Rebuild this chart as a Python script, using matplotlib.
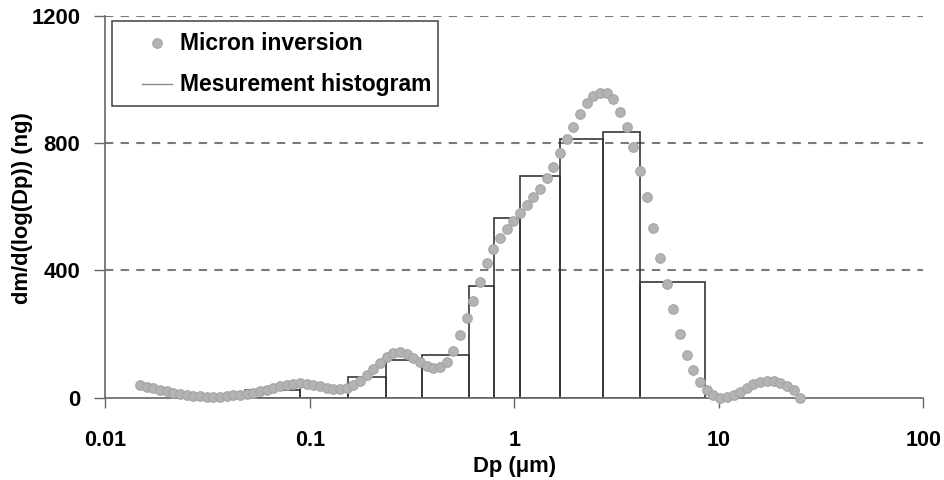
import matplotlib
matplotlib.use("Agg")
import matplotlib.pyplot as plt
from matplotlib.lines import Line2D
from matplotlib.patches import Rectangle
import numpy as np

plt.rcParams['font.family'] = ['Liberation Sans', 'DejaVu Sans']
plt.rcParams['font.weight'] = 'bold'

# Micron inversion (dots)
inv_dp = [0.01475, 0.01590, 0.01714, 0.01848, 0.01992, 0.02147, 0.02315, 0.02495, 0.02690, 0.02900,
          0.03126, 0.03370, 0.03633, 0.03916, 0.04221, 0.04550, 0.04906, 0.05288, 0.05700, 0.06145,
          0.06624, 0.07141, 0.07698, 0.08299, 0.08946, 0.09643, 0.1039, 0.1121, 0.1208, 0.1302,
          0.1404, 0.1513, 0.1631, 0.1758, 0.1896, 0.2044, 0.2203, 0.2375, 0.2560, 0.2760,
          0.2975, 0.3207, 0.3457, 0.3727, 0.4017, 0.4331, 0.4669, 0.5033, 0.5425, 0.5848,
          0.6304, 0.6796, 0.7326, 0.7897, 0.8513, 0.9178, 0.9892, 1.066, 1.150, 1.239,
          1.336, 1.440, 1.552, 1.673, 1.804, 1.945, 2.097, 2.260, 2.436, 2.626,
          2.831, 3.052, 3.290, 3.546, 3.823, 4.121, 4.443, 4.789, 5.163, 5.566,
          6.000, 6.468, 6.973, 7.516, 8.103, 8.735, 9.415, 10.15, 10.94, 11.80,
          12.71, 13.71, 14.77, 15.93, 17.17, 18.51, 19.95, 21.51, 23.19, 25.00]
inv_val = [40, 35, 30, 25, 20, 15, 12, 8, 6, 4,
           3, 3, 3, 5, 7, 10, 13, 16, 20, 25,
           31, 36, 41, 44, 45, 44, 41, 36, 31, 27,
           26, 31, 41, 54, 70, 89, 109, 128, 139, 142,
           136, 125, 112, 100, 93, 95, 112, 148, 197, 249,
           304, 363, 422, 466, 502, 531, 556, 580, 606, 630,
           657, 690, 725, 770, 812, 849, 890, 926, 948, 957,
           957, 938, 899, 850, 789, 711, 630, 533, 439, 357,
           279, 200, 134, 87, 49, 23, 9, 0, 1, 7,
           18, 30, 42, 49, 53, 53, 46, 37, 24, 0]

# Measurement histogram (bars)
bin_edges = [0.0481, 0.0895, 0.154, 0.2354, 0.352, 0.600, 0.798, 1.066, 1.673, 2.707, 4.134, 8.60]
bin_vals = [23, 33, 65, 120, 133, 352, 563, 695, 814, 834, 363]

y_ticks = [0, 400, 800, 1200]
x_ticks = [0.01, 0.1, 1, 10, 100]
x_ticklabels = ['0.01', '0.1', '1', '10', '100']
legend_labels = ['Micron inversion', 'Mesurement histogram']

W, H = 945, 480
fig = plt.figure(figsize=(W / 100, H / 100), dpi=100)
ax = fig.add_axes([105.5 / W, 1 - 397.7 / H, (923.3 - 105.5) / W, (397.7 - 15.7) / H])

ax.set_xscale('log')
ax.set_xlim(0.01, 100)
ax.set_ylim(0, 1200)

for y in y_ticks[1:]:
    ax.axhline(y, color='#7a7a7a', lw=1.5, ls=(0, (4, 3.5)), zorder=1)

left = np.array(bin_edges[:-1])
width = np.array(bin_edges[1:]) - left
ax.bar(left, bin_vals, width=width, align='edge', fill=False,
       edgecolor='#363636', linewidth=1.2, zorder=2)

dot_style = dict(marker='o', ms=6.9, mfc='#b3b3b3', mec='#a5a5a5', mew=0.8)
ax.plot(inv_dp, inv_val, ls='none', zorder=3, clip_on=False, **dot_style)

for s in ['top', 'right']:
    ax.spines[s].set_visible(False)
for s in ['left', 'bottom']:
    ax.spines[s].set_color('#666666')
    ax.spines[s].set_linewidth(1.2)

ax.set_yticks(y_ticks)
ax.set_xticks(x_ticks)
ax.set_xticklabels(x_ticklabels)
ax.xaxis.set_minor_locator(matplotlib.ticker.NullLocator())
ax.tick_params(axis='y', direction='out', length=8, width=1, color='#666666',
               labelsize=15.8, pad=10)
ax.tick_params(axis='x', direction='out', length=7, width=1, color='#666666',
               labelsize=15.5, pad=16)
for lab in ax.get_xticklabels() + ax.get_yticklabels():
    lab.set_fontweight('bold')

ax.set_xlabel('Dp (\u03bcm)', fontsize=15.8, fontweight='bold')
ax.xaxis.set_label_coords(0.5, -0.153)
ax.set_ylabel('dm/d(log(Dp)) (ng)', fontsize=15.8, fontweight='bold')
ax.yaxis.set_label_coords(-0.089, 0.497)

# legend box drawn in figure pixel coordinates
def fx(x):
    return x / W

def fy(y):
    return 1 - y / H

tf = fig.transFigure
box = Rectangle((fx(111.7), fy(106)), fx(438) - fx(111.7), fy(20.7) - fy(106),
                transform=tf, facecolor='white', edgecolor='#404040', lw=1.1,
                zorder=10, clip_on=False)
ax.add_patch(box)
ax.add_line(Line2D([fx(157)], [fy(43)], transform=tf, ls='none', zorder=11,
                   clip_on=False, **dot_style))
ax.add_line(Line2D([fx(142), fx(172)], [fy(83.5), fy(83.5)], transform=tf,
                   color='#8a8a8a', lw=1.0, zorder=11, clip_on=False))
ax.text(fx(180), fy(50.5), legend_labels[0], transform=tf, fontsize=16.5,
        fontweight='bold', va='baseline', ha='left', zorder=12)
ax.text(fx(180), fy(91.5), legend_labels[1], transform=tf, fontsize=16.5,
        fontweight='bold', va='baseline', ha='left', zorder=12)

fig.savefig('out.png', dpi=100)
